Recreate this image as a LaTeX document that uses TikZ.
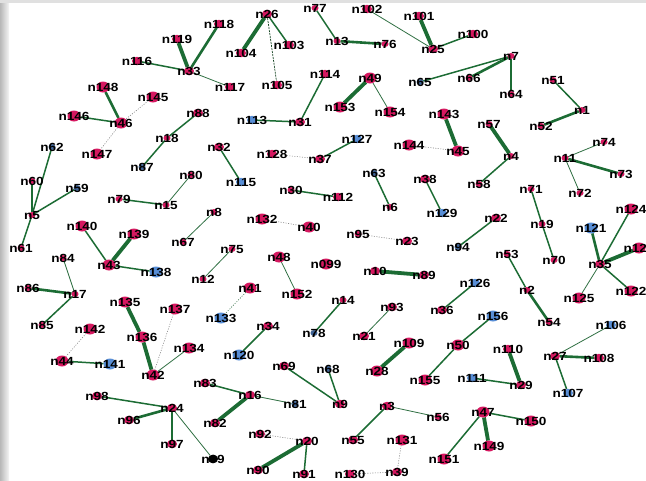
\documentclass[tikz,border=0pt]{standalone}
\usepackage{fontspec}
\newfontfamily\labf[FakeStretch=1.15]{Liberation Sans Bold}
\usetikzlibrary{shapes.geometric,backgrounds}
\definecolor{pk}{RGB}{214,24,96}
\definecolor{bl}{RGB}{88,142,214}
\definecolor{eg}{RGB}{28,108,52}
\tikzset{
 nd/.style={ellipse,inner sep=0pt,outer sep=0pt},
 pb/.style={nd,fill=pk,minimum width=13pt,minimum height=11pt},
 pm/.style={nd,fill=pk,minimum width=10pt,minimum height=8.5pt},
 ps/.style={nd,fill=pk,minimum width=7pt,minimum height=6pt},
 bb/.style={nd,fill=bl,minimum width=13pt,minimum height=11pt},
 bm/.style={nd,fill=bl,minimum width=10pt,minimum height=8.5pt},
 bs/.style={nd,fill=bl!70!black,minimum width=7pt,minimum height=6pt},
 kb/.style={nd,fill=black,minimum width=10pt,minimum height=8.5pt},
 every label/.style={font=\fontsize{11.8}{12}\labf,inner sep=0pt,text=black},
 w1/.style={draw=eg!80!gray,line width=0.8pt},
 w2/.style={draw=eg,line width=1.5pt},
 w3/.style={draw=eg,line width=2.6pt},
 w4/.style={draw=eg,line width=3.8pt},
 dt/.style={draw=gray,line width=0.6pt,dash pattern=on 1pt off 1.5pt},
 dg/.style={draw=eg!70!gray,line width=0.6pt,dash pattern=on 1pt off 1.5pt},
 dd/.style={draw=eg!60!black,line width=0.7pt,dash pattern=on 2pt off 1pt},
}
\begin{document}
\begin{tikzpicture}[x=1pt,y=-1pt]
\useasboundingbox (0,0) rectangle (646,480);
\begin{pgfonlayer}{background}
\fill[white] (0,0) rectangle (646,480);
\shade[left color=black!28,right color=black!4] (0,0) rectangle (9,480);
\fill[black!12] (0,0) rectangle (646,3);
\end{pgfonlayer}
% nodes
\node[pm,label=center:n116] (n116) at (137,61) {};
\node[pb,label=center:n148] (n148) at (103,87) {};
\node[pb,label=center:n145] (n145) at (153,97) {};
\node[pb,label=center:n146] (n146) at (74,116) {};
\node[pb,label=center:n46] (n46) at (121,123) {};
\node[bs,label=center:n62] (n62) at (52,147) {};
\node[pb,label=center:n147] (n147) at (97,154) {};
\node[pm,label=center:n118] (n118) at (219,24) {};
\node[pm,label=center:n119] (n119) at (177,39) {};
\node[pm,label=center:n33] (n33) at (189,71) {};
\node[pm,label=center:n117] (n117) at (230,87) {};
\node[pm,label=center:n26] (n26) at (267,14) {};
\node[pm,label=center:n104] (n104) at (241,53) {};
\node[pm,label=center:n103] (n103) at (289,45) {};
\node[pm,label=center:n105] (n105) at (277,85) {};
\node[bm,label=center:n113] (n113) at (252,120) {};
\node[pm,label=center:n31] (n31) at (300,122) {};
\node[pm,label=center:n114] (n114) at (325,74) {};
\node[pm,label=center:n88] (n88) at (198,113) {};
\node[ps,label=center:n18] (n18) at (167,138) {};
\node[pm,label=center:n32] (n32) at (219,147) {};
\node[pm,label=center:n128] (n128) at (272,154) {};
\node[pm,label=center:n37] (n37) at (320,159) {};
\node[ps,label=center:n77] (n77) at (315,8) {};
\node[pm,label=center:n102] (n102) at (367,9) {};
\node[pm,label=center:n101] (n101) at (419,16) {};
\node[ps,label=center:n13] (n13) at (337,41) {};
\node[ps,label=center:n76] (n76) at (385,44) {};
\node[pm,label=center:n25] (n25) at (433,49) {};
\node[pm,label=center:n100] (n100) at (473,34) {};
\node[pb,label=center:n49] (n49) at (370,78) {};
\node[bs,label=center:n65] (n65) at (420,82) {};
\node[ps,label=center:n66] (n66) at (469,78) {};
\node[pb,label=center:n153] (n153) at (340,107) {};
\node[pb,label=center:n154] (n154) at (390,112) {};
\node[pb,label=center:n143] (n143) at (444,114) {};
\node[bm,label=center:n127] (n127) at (357,139) {};
\node[pb,label=center:n144] (n144) at (409,145) {};
\node[pb,label=center:n45] (n45) at (458,151) {};
\node[ps,label=center:n7] (n7) at (511,56) {};
\node[ps,label=center:n64] (n64) at (511,94) {};
\node[ps,label=center:n51] (n51) at (553,80) {};
\node[ps,label=center:n1] (n1) at (582,110) {};
\node[ps,label=center:n52] (n52) at (541,126) {};
\node[ps,label=center:n57] (n57) at (489,124) {};
\node[ps,label=center:n74] (n74) at (604,142) {};
\node[ps,label=center:n4] (n4) at (511,156) {};
\node[ps,label=center:n11] (n11) at (565,158) {};
\node[bs,label=center:n87] (n87) at (142,167) {};
\node[ps,label=center:n60] (n60) at (32,181) {};
\node[bs,label=center:n59] (n59) at (77,188) {};
\node[ps,label=center:n5] (n5) at (32,215) {};
\node[ps,label=center:n61] (n61) at (21,248) {};
\node[ps,label=center:n79] (n79) at (119,199) {};
\node[ps,label=center:n15] (n15) at (166,205) {};
\node[pb,label=center:n140] (n140) at (82,226) {};
\node[pb,label=center:n139] (n139) at (134,234) {};
\node[pb,label=center:n43] (n43) at (109,265) {};
\node[bb,label=center:n138] (n138) at (156,272) {};
\node[ps,label=center:n84] (n84) at (63,258) {};
\node[ps,label=center:n86] (n86) at (28,288) {};
\node[ps,label=center:n17] (n17) at (75,294) {};
\node[pb,label=center:n135] (n135) at (125,302) {};
\node[ps,label=center:n85] (n85) at (42,325) {};
\node[ps,label=center:n80] (n80) at (191,175) {};
\node[bm,label=center:n115] (n115) at (241,182) {};
\node[ps,label=center:n30] (n30) at (291,190) {};
\node[ps,label=center:n8] (n8) at (214,212) {};
\node[ps,label=center:n67] (n67) at (183,242) {};
\node[pb,label=center:n132] (n132) at (262,219) {};
\node[pb,label=center:n40] (n40) at (309,227) {};
\node[ps,label=center:n75] (n75) at (232,249) {};
\node[ps,label=center:n12] (n12) at (203,279) {};
\node[pb,label=center:n48] (n48) at (279,257) {};
\node[pb,label=center:n099] (n099) at (326,264) {};
\node[pb,label=center:n152] (n152) at (297,294) {};
\node[pb,label=center:n41] (n41) at (250,288) {};
\node[pb,label=center:n137] (n137) at (175,309) {};
\node[bb,label=center:n133] (n133) at (221,318) {};
\node[pm,label=center:n112] (n112) at (338,197) {};
\node[bs,label=center:n63] (n63) at (374,173) {};
\node[ps,label=center:n6] (n6) at (390,207) {};
\node[pm,label=center:n38] (n38) at (425,179) {};
\node[bm,label=center:n129] (n129) at (442,213) {};
\node[ps,label=center:n58] (n58) at (479,184) {};
\node[ps,label=center:n95] (n95) at (358,234) {};
\node[pm,label=center:n23] (n23) at (407,241) {};
\node[bs,label=center:n94] (n94) at (458,247) {};
\node[pm,label=center:n10] (n10) at (375,271) {};
\node[pm,label=center:n89] (n89) at (424,275) {};
\node[ps,label=center:n14] (n14) at (343,300) {};
\node[pm,label=center:n93] (n93) at (392,307) {};
\node[bm,label=center:n126] (n126) at (475,283) {};
\node[pm,label=center:n36] (n36) at (442,310) {};
\node[ps,label=center:n73] (n73) at (621,174) {};
\node[ps,label=center:n72] (n72) at (580,193) {};
\node[ps,label=center:n71] (n71) at (531,189) {};
\node[ps,label=center:n19] (n19) at (542,224) {};
\node[pm,label=center:n22] (n22) at (496,218) {};
\node[bb,label=center:n121] (n121) at (591,228) {};
\node[pb,label=center:n124] (n124) at (631,209) {};
\node[pb,label=center:n123] (n123) at (639,248) {};
\node[ps,label=center:n53] (n53) at (507,254) {};
\node[ps,label=center:n70] (n70) at (554,260) {};
\node[pm,label=center:n35] (n35) at (600,264) {};
\node[ps,label=center:n2] (n2) at (527,290) {};
\node[pb,label=center:n125] (n125) at (579,298) {};
\node[pb,label=center:n122] (n122) at (631,291) {};
\node[ps,label=center:n54] (n54) at (549,322) {};
\node[bb,label=center:n156] (n156) at (493,316) {};
\node[pb,label=center:n142] (n142) at (90,329) {};
\node[pb,label=center:n136] (n136) at (142,337) {};
\node[pb,label=center:n44] (n44) at (62,361) {};
\node[bb,label=center:n141] (n141) at (110,364) {};
\node[pb,label=center:n42] (n42) at (153,375) {};
\node[pm,label=center:n98] (n98) at (97,396) {};
\node[pm,label=center:n96] (n96) at (129,420) {};
\node[pm,label=center:n24] (n24) at (172,408) {};
\node[pm,label=center:n97] (n97) at (172,444) {};
\node[pm,label=center:n34] (n34) at (268,326) {};
\node[bs,label=center:n78] (n78) at (314,333) {};
\node[pb,label=center:n134] (n134) at (189,348) {};
\node[bb,label=center:n120] (n120) at (239,355) {};
\node[pm,label=center:n69] (n69) at (284,366) {};
\node[pm,label=center:n83] (n83) at (205,383) {};
\node[pm,label=center:n16] (n16) at (250,395) {};
\node[bs,label=center:n81] (n81) at (295,404) {};
\node[pm,label=center:n82] (n82) at (215,423) {};
\node[kb,label=center:n99] (n99) at (213,459) {};
\node[pm,label=center:n92] (n92) at (260,434) {};
\node[pm,label=center:n20] (n20) at (307,441) {};
\node[pm,label=center:n90] (n90) at (258,470) {};
\node[pm,label=center:n91] (n91) at (304,474) {};
\node[pm,label=center:n21] (n21) at (364,336) {};
\node[pb,label=center:n109] (n109) at (409,343) {};
\node[pb,label=center:n50] (n50) at (458,345) {};
\node[bs,label=center:n68] (n68) at (328,369) {};
\node[pb,label=center:n28] (n28) at (377,371) {};
\node[pb,label=center:n155] (n155) at (425,380) {};
\node[bm,label=center:n111] (n111) at (472,378) {};
\node[pm,label=center:n9] (n9) at (340,404) {};
\node[pm,label=center:n3] (n3) at (387,406) {};
\node[ps,label=center:n56] (n56) at (438,417) {};
\node[pm,label=center:n55] (n55) at (353,440) {};
\node[pb,label=center:n131] (n131) at (402,440) {};
\node[pb,label=center:n151] (n151) at (444,459) {};
\node[pm,label=center:n130] (n130) at (350,474) {};
\node[pm,label=center:n39] (n39) at (397,472) {};
\node[bm,label=center:n106] (n106) at (611,325) {};
\node[pm,label=center:n110] (n110) at (508,349) {};
\node[pm,label=center:n27] (n27) at (555,356) {};
\node[pm,label=center:n108] (n108) at (599,358) {};
\node[pm,label=center:n29] (n29) at (521,385) {};
\node[bm,label=center:n107] (n107) at (568,393) {};
\node[pb,label=center:n47] (n47) at (483,412) {};
\node[pb,label=center:n150] (n150) at (531,421) {};
\node[pb,label=center:n149] (n149) at (489,446) {};
% edges
\begin{pgfonlayer}{background}
\draw[w2] (n116) -- (n33);
\draw[w4] (n119) -- (n33);
\draw[w3] (n118) -- (n33);
\draw[w1] (n33) -- (n117);
\draw[w4] (n26) -- (n104);
\draw[w2] (n26) -- (n103);
\draw[dd] (n26) -- (n105);
\draw[w2] (n77) -- (n13);
\draw[w3] (n13) -- (n76);
\draw[w1] (n102) -- (n25);
\draw[w4] (n101) -- (n25);
\draw[w2] (n100) -- (n25);
\draw[w2] (n7) -- (n65);
\draw[w3] (n7) -- (n66);
\draw[w2] (n7) -- (n64);
\draw[w2] (n51) -- (n1);
\draw[w3] (n1) -- (n52);
\draw[w3] (n148) -- (n46);
\draw[w2] (n146) -- (n46);
\draw[dt] (n145) -- (n46);
\draw[dt] (n46) -- (n147);
\draw[w2] (n88) -- (n18);
\draw[w2] (n18) -- (n87);
\draw[w2] (n114) -- (n31);
\draw[w2] (n113) -- (n31);
\draw[w4] (n49) -- (n153);
\draw[w1] (n49) -- (n154);
\draw[w4] (n143) -- (n45);
\draw[dt] (n144) -- (n45);
\draw[w4] (n57) -- (n4);
\draw[w2] (n4) -- (n58);
\draw[w1] (n11) -- (n74);
\draw[w3] (n11) -- (n73);
\draw[w1] (n11) -- (n72);
\draw[w2] (n62) -- (n5);
\draw[w3] (n60) -- (n5);
\draw[w2] (n59) -- (n5);
\draw[w2] (n5) -- (n61);
\draw[w2] (n32) -- (n115);
\draw[dt] (n128) -- (n37);
\draw[w2] (n127) -- (n37);
\draw[w1] (n80) -- (n15);
\draw[w2] (n79) -- (n15);
\draw[w2] (n30) -- (n112);
\draw[w2] (n63) -- (n6);
\draw[w2] (n38) -- (n129);
\draw[w2] (n71) -- (n19);
\draw[w2] (n19) -- (n70);
\draw[w2] (n140) -- (n43);
\draw[w4] (n139) -- (n43);
\draw[w2] (n43) -- (n138);
\draw[w1] (n8) -- (n67);
\draw[dt] (n132) -- (n40);
\draw[dt] (n95) -- (n23);
\draw[w2] (n22) -- (n94);
\draw[w2] (n124) -- (n35);
\draw[w3] (n121) -- (n35);
\draw[w4] (n123) -- (n35);
\draw[w2] (n35) -- (n122);
\draw[w1] (n35) -- (n125);
\draw[w1] (n84) -- (n17);
\draw[w3] (n86) -- (n17);
\draw[w2] (n17) -- (n85);
\draw[w1] (n75) -- (n12);
\draw[w1] (n48) -- (n152);
\draw[w4] (n10) -- (n89);
\draw[w2] (n53) -- (n2);
\draw[w3] (n2) -- (n54);
\draw[w2] (n126) -- (n36);
\draw[w4] (n135) -- (n136);
\draw[w4] (n136) -- (n42);
\draw[dt] (n137) -- (n42);
\draw[w1] (n134) -- (n42);
\draw[dg] (n41) -- (n133);
\draw[w2] (n14) -- (n78);
\draw[w1] (n93) -- (n21);
\draw[w2] (n156) -- (n50);
\draw[w2] (n50) -- (n155);
\draw[dt] (n142) -- (n44);
\draw[w2] (n44) -- (n141);
\draw[w2] (n34) -- (n120);
\draw[w1] (n106) -- (n27);
\draw[w3] (n27) -- (n108);
\draw[w2] (n27) -- (n107);
\draw[w4] (n110) -- (n29);
\draw[w2] (n111) -- (n29);
\draw[w4] (n109) -- (n28);
\draw[w2] (n69) -- (n9);
\draw[w2] (n68) -- (n9);
\draw[w2] (n83) -- (n16);
\draw[w1] (n16) -- (n81);
\draw[w4] (n16) -- (n82);
\draw[w2] (n98) -- (n24);
\draw[w3] (n96) -- (n24);
\draw[w3] (n24) -- (n97);
\draw[w1] (n24) -- (n99);
\draw[w2] (n3) -- (n55);
\draw[w1] (n3) -- (n56);
\draw[w2] (n47) -- (n151);
\draw[w4] (n47) -- (n149);
\draw[w2] (n47) -- (n150);
\draw[dt] (n92) -- (n20);
\draw[w4] (n20) -- (n90);
\draw[w2] (n20) -- (n91);
\draw[dt] (n131) -- (n39);
\draw[dt] (n130) -- (n39);
\end{pgfonlayer}
\end{tikzpicture}
\end{document}
